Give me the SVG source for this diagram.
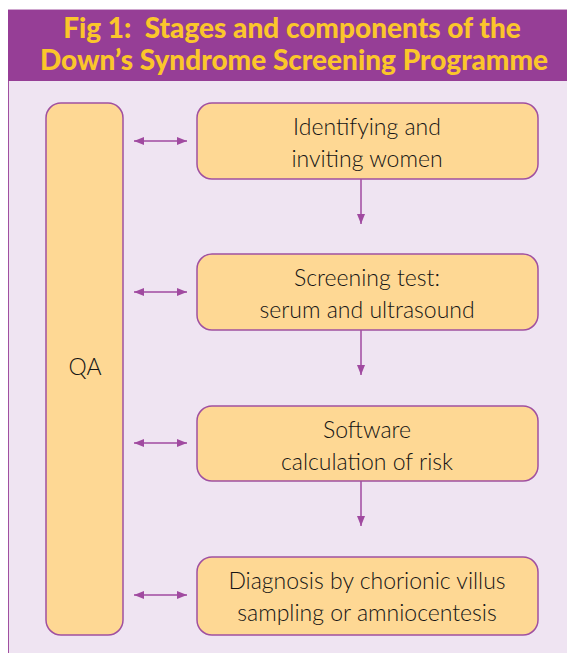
<svg xmlns="http://www.w3.org/2000/svg" width="567" height="653" viewBox="0 0 567 653">
  <style>
    .panel { fill: #EFE4F2; stroke: #A050A0; stroke-width: 1; }
    .bar { fill: #963E96; }
    .title { font-family: "Lato", "Open Sans", sans-serif; font-weight: 900; font-size: 28px; fill: #FBC62B; text-anchor: middle; }
    .box { fill: #FED894; stroke: #A050A0; stroke-width: 1.5; }
    .label { font-family: "Lato", "Open Sans", sans-serif; font-weight: 300; font-size: 23px; fill: #141414; text-anchor: middle; }
    .conn { stroke: #A04AA0; stroke-width: 1.5; fill: none; }
  </style>
  <defs>
    <marker id="head" viewBox="0 0 10 8" refX="10" refY="4" markerWidth="10" markerHeight="8" markerUnits="userSpaceOnUse" orient="auto-start-reverse">
      <path d="M0,0 L10,4 L0,8 Z" fill="#A04AA0"/>
    </marker>
  </defs>

  <!-- background panel and title bar -->
  <rect class="panel" x="8.5" y="10" width="570" height="660"/>
  <rect class="bar" x="8" y="10" width="559" height="71"/>
  <text class="title" x="292" y="38">Fig 1:&#160; Stages and components of the</text>
  <text class="title" x="294" y="70">Down’s Syndrome Screening Programme</text>

  <!-- connectors -->
  <g id="connectors">
    <line class="conn" x1="134" y1="141" x2="187" y2="141" marker-start="url(#head)" marker-end="url(#head)"/>
    <line class="conn" x1="134" y1="292" x2="187" y2="292" marker-start="url(#head)" marker-end="url(#head)"/>
    <line class="conn" x1="134" y1="443" x2="187" y2="443" marker-start="url(#head)" marker-end="url(#head)"/>
    <line class="conn" x1="134" y1="595" x2="187" y2="595" marker-start="url(#head)" marker-end="url(#head)"/>
    <line class="conn" x1="361" y1="179" x2="361" y2="224" marker-end="url(#head)"/>
    <line class="conn" x1="361" y1="330" x2="361" y2="375" marker-end="url(#head)"/>
    <line class="conn" x1="361" y1="481" x2="361" y2="526" marker-end="url(#head)"/>
  </g>

  <!-- nodes -->
  <g id="qa">
    <rect class="box" x="46" y="103" width="77" height="532" rx="15"/>
    <text class="label" x="85" y="375">QA</text>
  </g>
  <g id="identify">
    <rect class="box" x="197" y="103" width="341" height="76" rx="15"/>
    <text class="label" x="367" y="135">Identifying and</text>
    <text class="label" x="367" y="167">inviting women</text>
  </g>
  <g id="screening">
    <rect class="box" x="197" y="254" width="341" height="76" rx="15"/>
    <text class="label" x="367" y="286">Screening test:</text>
    <text class="label" x="367" y="318">serum and ultrasound</text>
  </g>
  <g id="software">
    <rect class="box" x="197" y="406" width="341" height="75" rx="15"/>
    <text class="label" x="367" y="438">Software</text>
    <text class="label" x="367" y="470">calculation of risk</text>
  </g>
  <g id="diagnosis">
    <rect class="box" x="197" y="557" width="341" height="78" rx="15"/>
    <text class="label" x="367" y="589">Diagnosis by chorionic villus</text>
    <text class="label" x="367" y="621">sampling or amniocentesis</text>
  </g>
</svg>
